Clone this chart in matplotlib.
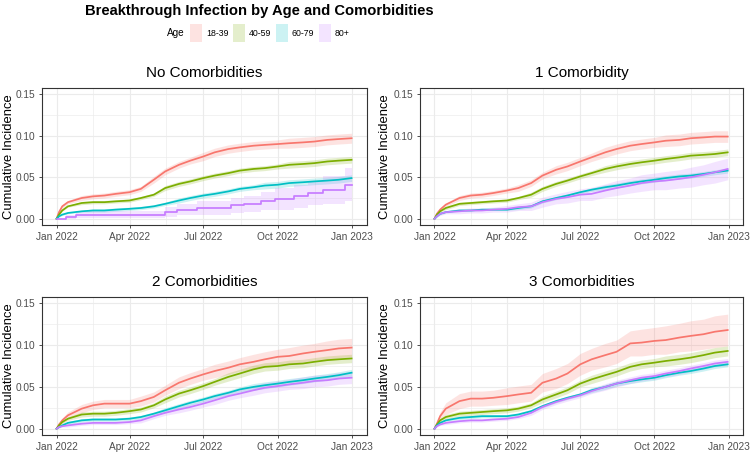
import numpy as np
import matplotlib
matplotlib.use("Agg")
import matplotlib.pyplot as plt
from matplotlib.patches import Rectangle

plt.rcParams['font.family'] = ['Liberation Sans', 'DejaVu Sans']

# ---------------- data ----------------
AGE_GROUPS = ["18-39", "40-59", "60-79", "80+"]
AGE_COLORS = ["#F8766D", "#7CAE00", "#00BFC4", "#C77CFF"]
PANEL_TITLES = ["No Comorbidities", "1 Comorbidity", "2 Comorbidities", "3 Comorbidities"]
X_TICK_LABELS = ["Jan 2022", "Apr 2022", "Jul 2022", "Oct 2022", "Jan 2023"]
Y_TICKS = [0.00, 0.05, 0.10, 0.15]
Y_TICK_LABELS = ["0.00", "0.05", "0.10", "0.15"]

# days since 2022-01-01
DAYS = [0, 3, 7, 14, 31, 45, 59, 73, 90, 104, 120, 134, 151, 165, 181, 195,
        212, 226, 243, 257, 273, 287, 304, 318, 334, 348, 364]

# No comorbidities
no_com_18_39 = [0, 0.008, 0.015, 0.020, 0.025, 0.027, 0.028, 0.030, 0.032, 0.036, 0.047, 0.057, 0.065, 0.070,
                0.075, 0.080, 0.084, 0.086, 0.088, 0.089, 0.090, 0.091, 0.092, 0.093, 0.095, 0.096, 0.097]
no_com_40_59 = [0, 0.005, 0.010, 0.015, 0.019, 0.020, 0.020, 0.021, 0.022, 0.025, 0.029, 0.037, 0.042, 0.045,
                0.049, 0.052, 0.055, 0.058, 0.060, 0.061, 0.063, 0.065, 0.066, 0.067, 0.069, 0.070, 0.071]
no_com_60_79 = [0, 0.003, 0.005, 0.007, 0.009, 0.010, 0.010, 0.011, 0.012, 0.013, 0.015, 0.018, 0.022, 0.025,
                0.028, 0.030, 0.033, 0.036, 0.038, 0.040, 0.041, 0.043, 0.044, 0.045, 0.046, 0.047, 0.049]
no_com_18_39_ci = [0, 0.001, 0.002, 0.002, 0.003, 0.003, 0.003, 0.003, 0.003, 0.003, 0.004, 0.004, 0.004, 0.004,
                   0.005, 0.005, 0.005, 0.005, 0.005, 0.005, 0.005, 0.006, 0.006, 0.006, 0.006, 0.006, 0.006]
no_com_40_59_ci = [0, 0.001, 0.001, 0.001, 0.002, 0.002, 0.002, 0.002, 0.002, 0.002, 0.002, 0.003, 0.003, 0.003,
                   0.003, 0.003, 0.003, 0.003, 0.003, 0.003, 0.003, 0.004, 0.004, 0.004, 0.004, 0.004, 0.004]
no_com_60_79_ci = [0, 0.001, 0.001, 0.001, 0.001, 0.002, 0.002, 0.002, 0.002, 0.002, 0.002, 0.002, 0.003, 0.003,
                   0.003, 0.003, 0.003, 0.003, 0.003, 0.004, 0.004, 0.004, 0.004, 0.004, 0.004, 0.004, 0.004]
# the 80+ group without comorbidities is a coarse staircase
no_com_80_step_days = [0, 12, 24, 134, 149, 173, 215, 231, 252, 269, 293, 310, 329, 356, 364]
no_com_80_step_vals = [0, 0.002, 0.005, 0.008, 0.011, 0.013, 0.016, 0.018, 0.021, 0.024, 0.027, 0.031,
                       0.035, 0.041, 0.041]
no_com_80_step_ci = [0, 0.002, 0.004, 0.006, 0.007, 0.008, 0.009, 0.010, 0.011, 0.013, 0.014, 0.015,
                     0.017, 0.020, 0.020]

# 1 comorbidity
one_com_18_39 = [0, 0.006, 0.011, 0.017, 0.025, 0.028, 0.029, 0.031, 0.034, 0.037, 0.043, 0.052, 0.059, 0.063,
                 0.069, 0.074, 0.080, 0.084, 0.088, 0.090, 0.092, 0.094, 0.095, 0.097, 0.098, 0.099, 0.099]
one_com_40_59 = [0, 0.005, 0.009, 0.013, 0.018, 0.019, 0.020, 0.021, 0.022, 0.025, 0.029, 0.036, 0.042, 0.046,
                 0.051, 0.055, 0.060, 0.063, 0.066, 0.068, 0.070, 0.072, 0.074, 0.076, 0.077, 0.078, 0.080]
one_com_60_79 = [0, 0.003, 0.006, 0.008, 0.010, 0.010, 0.011, 0.011, 0.011, 0.013, 0.015, 0.021, 0.025, 0.028,
                 0.032, 0.035, 0.038, 0.040, 0.043, 0.045, 0.047, 0.049, 0.051, 0.052, 0.054, 0.056, 0.058]
one_com_80 = [0, 0.003, 0.006, 0.008, 0.009, 0.010, 0.010, 0.011, 0.012, 0.014, 0.015, 0.020, 0.024, 0.026,
              0.029, 0.030, 0.034, 0.037, 0.040, 0.043, 0.045, 0.046, 0.048, 0.050, 0.053, 0.056, 0.060]
one_com_18_39_ci = [0, 0.001, 0.002, 0.002, 0.003, 0.003, 0.003, 0.003, 0.003, 0.004, 0.004, 0.004, 0.005, 0.005,
                    0.005, 0.005, 0.006, 0.006, 0.006, 0.006, 0.006, 0.007, 0.007, 0.007, 0.007, 0.007, 0.007]
one_com_40_59_ci = [0, 0.001, 0.001, 0.002, 0.002, 0.002, 0.002, 0.002, 0.002, 0.002, 0.003, 0.003, 0.003, 0.003,
                    0.003, 0.003, 0.004, 0.004, 0.004, 0.004, 0.004, 0.004, 0.004, 0.004, 0.004, 0.004, 0.004]
one_com_60_79_ci = [0, 0.001, 0.001, 0.001, 0.001, 0.001, 0.001, 0.001, 0.001, 0.002, 0.002, 0.002, 0.002, 0.002,
                    0.002, 0.002, 0.003, 0.003, 0.003, 0.003, 0.003, 0.003, 0.003, 0.003, 0.003, 0.003, 0.003]
one_com_80_ci = [0, 0.001, 0.002, 0.002, 0.003, 0.003, 0.003, 0.003, 0.004, 0.004, 0.005, 0.006, 0.006, 0.007,
                 0.007, 0.008, 0.008, 0.009, 0.009, 0.010, 0.010, 0.011, 0.011, 0.012, 0.012, 0.013, 0.013]

# 2 comorbidities
two_com_18_39 = [0, 0.005, 0.010, 0.016, 0.024, 0.028, 0.030, 0.030, 0.030, 0.033, 0.038, 0.046, 0.055, 0.060,
                 0.065, 0.069, 0.073, 0.077, 0.080, 0.083, 0.086, 0.087, 0.090, 0.092, 0.094, 0.096, 0.097]
two_com_40_59 = [0, 0.004, 0.008, 0.012, 0.017, 0.018, 0.018, 0.019, 0.021, 0.023, 0.028, 0.035, 0.042, 0.046,
                 0.051, 0.056, 0.062, 0.066, 0.071, 0.074, 0.075, 0.077, 0.078, 0.080, 0.082, 0.083, 0.084]
two_com_60_79 = [0, 0.002, 0.004, 0.007, 0.010, 0.011, 0.011, 0.011, 0.012, 0.014, 0.018, 0.022, 0.027, 0.031,
                 0.035, 0.039, 0.043, 0.047, 0.050, 0.052, 0.054, 0.056, 0.058, 0.060, 0.062, 0.064, 0.067]
two_com_80 = [0, 0.002, 0.003, 0.004, 0.006, 0.007, 0.007, 0.007, 0.008, 0.010, 0.015, 0.019, 0.023, 0.026,
              0.030, 0.034, 0.039, 0.042, 0.046, 0.049, 0.051, 0.053, 0.055, 0.057, 0.058, 0.060, 0.061]
two_com_18_39_ci = [0, 0.002, 0.003, 0.004, 0.005, 0.005, 0.005, 0.005, 0.005, 0.006, 0.006, 0.006, 0.007, 0.007,
                    0.007, 0.008, 0.008, 0.008, 0.009, 0.009, 0.009, 0.010, 0.010, 0.010, 0.011, 0.011, 0.011]
two_com_40_59_ci = [0, 0.001, 0.002, 0.002, 0.003, 0.003, 0.003, 0.003, 0.003, 0.003, 0.003, 0.004, 0.004, 0.004,
                    0.004, 0.004, 0.005, 0.005, 0.005, 0.005, 0.005, 0.005, 0.005, 0.005, 0.005, 0.005, 0.005]
two_com_60_79_ci = [0, 0.001, 0.001, 0.002, 0.002, 0.002, 0.002, 0.002, 0.002, 0.002, 0.002, 0.003, 0.003, 0.003,
                    0.003, 0.003, 0.003, 0.003, 0.004, 0.004, 0.004, 0.004, 0.004, 0.004, 0.004, 0.004, 0.004]
two_com_80_ci = [0, 0.001, 0.001, 0.002, 0.002, 0.002, 0.002, 0.002, 0.002, 0.003, 0.003, 0.003, 0.004, 0.004,
                 0.004, 0.005, 0.005, 0.005, 0.006, 0.006, 0.006, 0.006, 0.007, 0.007, 0.007, 0.007, 0.007]

# 3 comorbidities
three_com_18_39 = [0, 0.006, 0.015, 0.024, 0.033, 0.036, 0.036, 0.037, 0.039, 0.041, 0.043, 0.055, 0.060, 0.066,
                   0.077, 0.083, 0.088, 0.092, 0.102, 0.103, 0.105, 0.106, 0.109, 0.111, 0.113, 0.116, 0.118]
three_com_40_59 = [0, 0.005, 0.010, 0.014, 0.018, 0.019, 0.020, 0.021, 0.022, 0.024, 0.028, 0.035, 0.041, 0.046,
                   0.054, 0.059, 0.064, 0.068, 0.074, 0.077, 0.079, 0.081, 0.083, 0.085, 0.088, 0.091, 0.093]
three_com_60_79 = [0, 0.004, 0.007, 0.010, 0.013, 0.014, 0.015, 0.015, 0.015, 0.017, 0.021, 0.027, 0.033, 0.037,
                   0.041, 0.046, 0.050, 0.054, 0.057, 0.059, 0.061, 0.064, 0.067, 0.069, 0.072, 0.075, 0.077]
three_com_80 = [0, 0.003, 0.005, 0.007, 0.009, 0.010, 0.010, 0.011, 0.012, 0.014, 0.019, 0.026, 0.032, 0.036,
                0.040, 0.045, 0.050, 0.054, 0.058, 0.061, 0.063, 0.066, 0.069, 0.072, 0.075, 0.078, 0.080]
three_com_18_39_ci = [0, 0.003, 0.005, 0.007, 0.009, 0.009, 0.009, 0.009, 0.010, 0.010, 0.010, 0.011, 0.012, 0.012,
                      0.013, 0.013, 0.014, 0.014, 0.015, 0.016, 0.016, 0.017, 0.017, 0.018, 0.018, 0.019, 0.019]
three_com_40_59_ci = [0, 0.001, 0.002, 0.003, 0.003, 0.003, 0.003, 0.003, 0.003, 0.003, 0.003, 0.004, 0.004, 0.004,
                      0.004, 0.005, 0.005, 0.005, 0.005, 0.005, 0.005, 0.006, 0.006, 0.006, 0.006, 0.006, 0.006]
three_com_60_79_ci = [0, 0.001, 0.001, 0.001, 0.002, 0.002, 0.002, 0.002, 0.002, 0.002, 0.002, 0.002, 0.002, 0.002,
                      0.002, 0.003, 0.003, 0.003, 0.003, 0.003, 0.003, 0.003, 0.003, 0.003, 0.003, 0.003, 0.003]
three_com_80_ci = [0, 0.001, 0.001, 0.002, 0.002, 0.002, 0.002, 0.002, 0.002, 0.002, 0.003, 0.003, 0.003, 0.003,
                   0.003, 0.003, 0.004, 0.004, 0.004, 0.004, 0.004, 0.004, 0.004, 0.004, 0.004, 0.004, 0.004]

# series per panel: (values, ci) or None for the staircase case
PANEL_SERIES = [
    [(no_com_18_39, no_com_18_39_ci), (no_com_40_59, no_com_40_59_ci), (no_com_60_79, no_com_60_79_ci), None],
    [(one_com_18_39, one_com_18_39_ci), (one_com_40_59, one_com_40_59_ci), (one_com_60_79, one_com_60_79_ci),
     (one_com_80, one_com_80_ci)],
    [(two_com_18_39, two_com_18_39_ci), (two_com_40_59, two_com_40_59_ci), (two_com_60_79, two_com_60_79_ci),
     (two_com_80, two_com_80_ci)],
    [(three_com_18_39, three_com_18_39_ci), (three_com_40_59, three_com_40_59_ci),
     (three_com_60_79, three_com_60_79_ci), (three_com_80, three_com_80_ci)],
]

# ---------------- layout ----------------
W, H = 750, 453
fig = plt.figure(figsize=(W / 100, H / 100), dpi=100)
fig.patch.set_facecolor("white")

def px_box(l, t, r, b):
    return [l / W, 1 - b / H, (r - l) / W, (b - t) / H]

PANEL_BOXES = [(42, 88, 367, 225), (420, 88, 743, 225), (42, 297, 367, 435), (420, 297, 743, 435)]
YLABEL_X = [9, 384.5, 9, 384.5]

start = np.datetime64("2022-01-01")
def to_dates(days):
    return start + np.array(days).astype("timedelta64[D]")

dates = to_dates(DAYS)
major_ticks = [np.datetime64(d) for d in ["2022-01-01", "2022-04-01", "2022-07-01", "2022-10-01", "2023-01-01"]]
minor_ticks = [np.datetime64(d) for d in ["2022-02-15", "2022-05-16", "2022-08-16", "2022-11-16"]]
xlo = np.datetime64("2022-01-01") - np.timedelta64(18, "D")
xhi = np.datetime64("2023-01-01") + np.timedelta64(18, "D")

GRID = "#EBEBEB"
BORDER = "#333333"
TICKLAB = "#4D4D4D"

for i, (box, title, series) in enumerate(zip(PANEL_BOXES, PANEL_TITLES, PANEL_SERIES)):
    ax = fig.add_axes(px_box(*box))
    ax.set_facecolor("white")
    for k, s in enumerate(series):
        col = AGE_COLORS[k]
        if s is None:
            sd = to_dates(no_com_80_step_days)
            v = np.array(no_com_80_step_vals)
            c = np.array(no_com_80_step_ci)
            ax.fill_between(sd, np.clip(v - c, 0, None), v + c, step="post", color=col, alpha=0.2, lw=0)
            ax.plot(sd, v, drawstyle="steps-post", color=col, lw=1.25, zorder=3)
        else:
            v = np.array(s[0])
            c = np.array(s[1])
            ax.fill_between(dates, np.clip(v - c, 0, None), v + c, color=col, alpha=0.2, lw=0)
            ax.plot(dates, v, color=col, lw=1.25, zorder=3)
    ax.set_xlim(xlo, xhi)
    ax.set_ylim(-0.0075, 0.1575)
    ax.set_xticks(major_ticks)
    ax.set_xticklabels(X_TICK_LABELS)
    ax.set_xticks(minor_ticks, minor=True)
    ax.set_yticks(Y_TICKS)
    ax.set_yticklabels(Y_TICK_LABELS)
    ax.set_yticks([0.025, 0.075, 0.125], minor=True)
    ax.grid(True, which="major", color=GRID, lw=0.8, zorder=0)
    ax.grid(True, which="minor", color=GRID, lw=0.45, zorder=0)
    ax.set_axisbelow(True)
    ax.tick_params(which="major", length=2.2, width=0.6, color=BORDER, labelsize=7.3,
                   labelcolor=TICKLAB, pad=2.5)
    ax.tick_params(which="minor", length=0)
    for sp in ax.spines.values():
        sp.set_color(BORDER)
        sp.set_linewidth(0.8)
    l, t, r, b = box
    fig.text(YLABEL_X[i] / W, 1 - ((t + b) / 2) / H, "Cumulative Incidence", rotation=90,
             ha="center", va="center", fontsize=9.4, color="black")
    fig.text(((l + r) / 2) / W, 1 - (t - 15) / H, title, ha="center", va="center", fontsize=11, color="black")

# title
fig.text(259 / W, 1 - 11 / H, "Breakthrough Infection by Age and Comorbidities",
         ha="center", va="center", fontsize=10.6, fontweight="bold")

# legend
fig.text(167 / W, 1 - 33.5 / H, "Age", ha="left", va="center", fontsize=7.2)
KEY_X = [190, 233, 276, 319]
for kx, lab, col in zip(KEY_X, AGE_GROUPS, AGE_COLORS):
    fig.add_artist(Rectangle((kx / W, 1 - 42 / H), 12 / W, 18 / H, transform=fig.transFigure,
                             facecolor=col, alpha=0.2, edgecolor="none"))
    fig.text((kx + 16) / W, 1 - 33.5 / H, lab, ha="left", va="center", fontsize=6.3)

fig.savefig("out.png", dpi=100)
